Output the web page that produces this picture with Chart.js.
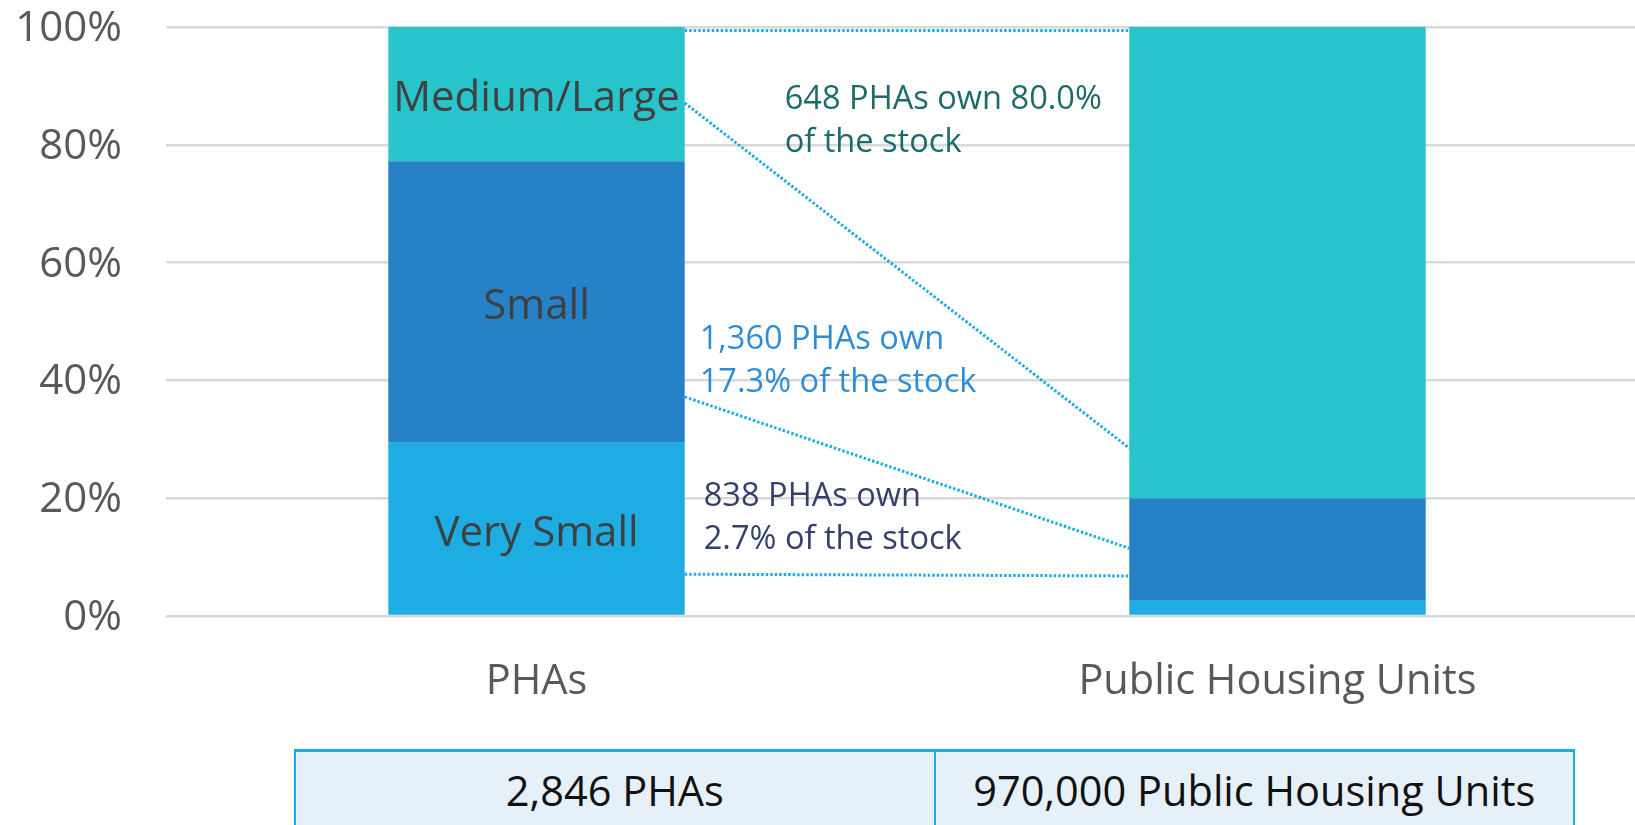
<!DOCTYPE html>
<html>
<head>
<meta charset="utf-8">
<script src="https://cdn.jsdelivr.net/npm/chart.js@4"></script>
<style>
    html, body { margin: 0; padding: 0; background: #fff; overflow: hidden; width: 1635px; height: 825px; }
    #wrap { position: absolute; left: 0; top: 0; width: 1648px; height: 760px; }
    #totals { position: absolute; left: 294px; top: 749px; width: 1281px; height: 110px; display: flex;
        border-top: 3px solid #1eade3; border-left: 2px solid #1eade3; border-right: 2px solid #1eade3;
        background: #e6f0f8; box-sizing: border-box; font-family: "Open Sans", sans-serif; }
    #totals div { flex: 1; text-align: center; font-size: 41.5px; line-height: 56px; padding-top: 10px; color: #111; }
    #totals div + div { border-left: 2px solid #1eade3; }
</style>
</head>
<body>
<div id="wrap"><canvas id="chart" width="1648" height="760"></canvas></div>
<div id="totals"></div>
<script>
// categories and series (percent of each bar)
const categories = ['PHAs', 'Public Housing Units'];
const sizeClasses = ['Very Small', 'Small', 'Medium/Large'];
const verySmall = [29.4, 2.7];
const small = [47.8, 17.3];
const mediumLarge = [22.8, 80.0];
const yTicks = [0, 20, 40, 60, 80, 100];

// dotted connectors: value at PHAs bar edge -> value at units bar edge
const connectorFrom = [99.4, 87.1, 37.2, 7.1];
const connectorTo = [99.4, 28.5, 11.5, 6.8];

const noteText = [
    ['648 PHAs own 80.0%', 'of the stock'],
    ['1,360 PHAs own', '17.3% of the stock'],
    ['838 PHAs own', '2.7% of the stock']
];
const noteValue = [88.2, 47.5, 20.7];

const totals = ['2,846 PHAs', '970,000 Public Housing Units'];

const colors = ['#1dade3', '#2682c6', '#28c4cc'];
const FONT = '"Open Sans", sans-serif';

document.getElementById('totals').innerHTML = totals.map(t => `<div>${t}</div>`).join('');

// label each segment of the first bar
const segmentLabels = {
    id: 'segmentLabels',
    afterDatasetsDraw(chart) {
        const ctx = chart.ctx;
        ctx.save();
        ctx.font = `42px ${FONT}`;
        ctx.fillStyle = '#404040';
        ctx.textAlign = 'center';
        ctx.textBaseline = 'middle';
        chart.data.datasets.forEach((ds, i) => {
            const el = chart.getDatasetMeta(i).data[0];
            ctx.fillText(ds.label, el.x, (el.y + el.base) / 2 + 5);
        });
        ctx.restore();
    }
};

const connectors = {
    id: 'connectors',
    afterDatasetsDraw(chart) {
        const ctx = chart.ctx;
        const y = chart.scales.y;
        const a = chart.getDatasetMeta(0).data[0];
        const b = chart.getDatasetMeta(0).data[1];
        const x0 = a.x + a.width / 2;
        const x1 = b.x - b.width / 2;
        ctx.save();
        ctx.strokeStyle = '#1eade3';
        ctx.lineWidth = 3;
        ctx.setLineDash([2.5, 2]);
        connectorFrom.forEach((v, i) => {
            ctx.beginPath();
            ctx.moveTo(x0, y.getPixelForValue(v));
            ctx.lineTo(x1, y.getPixelForValue(connectorTo[i]));
            ctx.stroke();
        });
        ctx.restore();
    }
};

const notes = {
    id: 'notes',
    afterDatasetsDraw(chart, args, opts) {
        const ctx = chart.ctx;
        const y = chart.scales.y;
        const a = chart.getDatasetMeta(0).data[0];
        const edge = a.x + a.width / 2;
        ctx.save();
        ctx.font = `32.6px ${FONT}`;
        ctx.textAlign = 'left';
        ctx.textBaseline = 'middle';
        noteText.forEach((lines, i) => {
            ctx.fillStyle = opts.colors[i];
            const top = y.getPixelForValue(noteValue[i]) + 3;
            lines.forEach((t, j) => ctx.fillText(t, edge + opts.dx[i], top + j * opts.lineGap));
        });
        ctx.restore();
    }
};

new Chart(document.getElementById('chart'), {
    type: 'bar',
    data: {
        labels: categories,
        datasets: [verySmall, small, mediumLarge].map((d, i) => ({
            label: sizeClasses[i],
            data: d,
            backgroundColor: colors[i],
            borderWidth: 0
        }))
    },
    options: {
        responsive: false,
        devicePixelRatio: 1,
        animation: false,
        barPercentage: 0.4,
        categoryPercentage: 1,
        layout: { padding: { top: 27, left: 0, right: 0, bottom: 0 } },
        plugins: {
            legend: { display: false },
            tooltip: { enabled: false },
            notes: {
                colors: ['#1b6a6c', '#2e8dd6', '#353f6c'],
                dx: [100, 15, 19],
                lineGap: 43
            }
        },
        scales: {
            x: {
                stacked: true,
                grid: { display: false },
                border: { display: false },
                ticks: { color: '#595959', font: { family: FONT, size: 41.5 }, padding: 33 },
                afterFit(scale) { scale.height = 144; }
            },
            y: {
                stacked: true,
                min: 0,
                max: 100,
                afterBuildTicks(scale) { scale.ticks = yTicks.map(v => ({ value: v })); },
                grid: { color: '#d9d9d9', lineWidth: 2.5, drawTicks: true, tickLength: 44, tickColor: 'rgba(0,0,0,0)' },
                border: { display: false },
                ticks: {
                    color: '#595959',
                    font: { family: FONT, size: 42 },
                    padding: 0,
                    labelOffset: 2,
                    callback: v => v + '%'
                },
                afterFit(scale) { scale.width = 166; }
            }
        }
    },
    plugins: [segmentLabels, connectors, notes]
});
</script>
</body>
</html>
